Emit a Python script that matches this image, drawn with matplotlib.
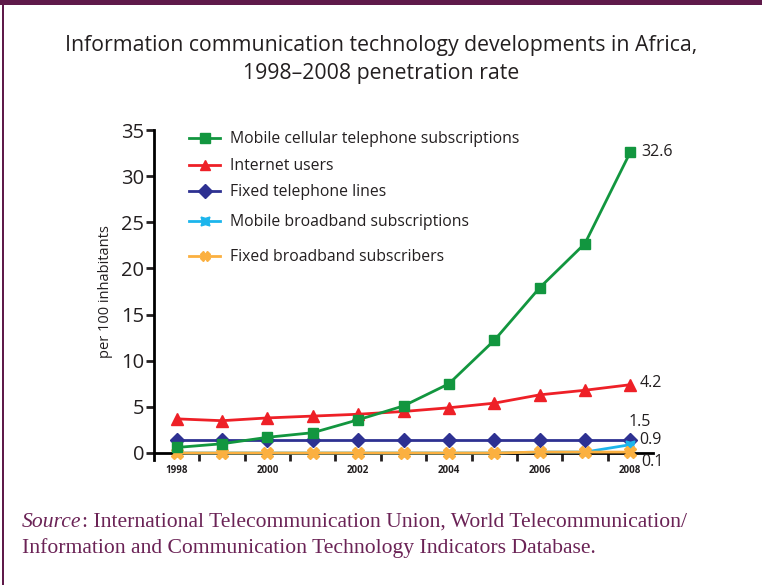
import matplotlib.pyplot as plt
from matplotlib.patches import Rectangle
from matplotlib.lines import Line2D

years = list(range(1998, 2009))
mobile_cellular = [0.6, 1.0, 1.7, 2.2, 3.6, 5.1, 7.5, 12.2, 17.9, 22.7, 32.6]
internet_users = [3.7, 3.5, 3.8, 4.0, 4.2, 4.5, 4.9, 5.4, 6.3, 6.8, 7.4]
fixed_lines = [1.4, 1.4, 1.4, 1.4, 1.4, 1.4, 1.4, 1.4, 1.4, 1.4, 1.4]
mobile_broadband = [0.0, 0.0, 0.0, 0.0, 0.0, 0.0, 0.0, 0.0, 0.1, 0.1, 0.9]
fixed_broadband = [0.0, 0.0, 0.0, 0.0, 0.0, 0.0, 0.0, 0.0, 0.1, 0.1, 0.1]

series_labels = ["Mobile cellular telephone subscriptions", "Internet users",
                 "Fixed telephone lines", "Mobile broadband subscriptions",
                 "Fixed broadband subscribers"]
end_labels = ["32.6", "4.2", "1.5", "0.9", "0.1"]
x_ticklabels = ["1998", "2000", "2002", "2004", "2006", "2008"]

plt.rcParams['font.family'] = ['Open Sans', 'DejaVu Sans']

fig = plt.figure(figsize=(7.62, 5.85), dpi=100)
maroon = "#5f1a4a"
txt = "#231f20"

# frame bits: top bar and left line
fig.add_artist(Rectangle((0, 1 - 5 / 585), 1, 5 / 585, transform=fig.transFigure,
                         color=maroon, lw=0))
fig.add_artist(Rectangle((2 / 762, 0), 2 / 762, 1, transform=fig.transFigure,
                         color=maroon, lw=0))

fig.text(0.5, 1 - 46 / 585, "Information communication technology developments in Africa,",
         ha='center', va='center', fontsize=15.3, color=txt)
fig.text(0.5, 1 - 73 / 585, "1998\u20132008 penetration rate",
         ha='center', va='center', fontsize=15.3, color=txt)

ax = fig.add_axes([154 / 762, 1 - 453 / 585, (653 - 154) / 762, (453 - 130) / 585])

green = "#12963f"
red = "#ee2027"
navy = "#2e3192"
cyan = "#1cb5ec"
orange = "#fbb040"
colors = [green, red, navy, cyan, orange]
markers = ['s', '^', 'D', (4, 1, 45), 'X']
legend_ms = [7, 7, 7, 9, 7]

ax.plot(years, mobile_cellular, color=green, lw=2, marker='s', ms=7, clip_on=False, zorder=5)
ax.plot(years, internet_users, color=red, lw=2, marker='^', ms=8, clip_on=False, zorder=4)
ax.plot(years, fixed_lines, color=navy, lw=2, marker='D', ms=7, clip_on=False, zorder=3)
ax.plot(years, mobile_broadband, color=cyan, lw=2, marker=(4, 1, 45), ms=9, clip_on=False, zorder=3)
ax.plot(years, fixed_broadband, color=orange, lw=2, marker='X', ms=8, clip_on=False, zorder=3)

ax.set_xlim(1997.5, 2008.5)
ax.set_ylim(0, 35)
for s in ['top', 'right']:
    ax.spines[s].set_visible(False)
ax.spines['left'].set_linewidth(2)
ax.spines['bottom'].set_linewidth(2)
ax.spines['left'].set_bounds(-0.8, 35)

ax.set_yticks(range(0, 36, 5))
ax.tick_params(axis='y', length=6, width=2, labelsize=14.5, pad=1, colors=txt)
ax.set_xticks([y + 0.5 for y in range(1998, 2008)])
ax.set_xticklabels([])
ax.tick_params(axis='x', length=6, width=2, direction='out', colors=txt)
for yr, lab in zip(range(1998, 2009, 2), x_ticklabels):
    ax.text(yr, -1.3, lab, ha='center', va='top', fontsize=7, fontweight='bold', color=txt)

ax.set_ylabel("per 100 inhabitants", fontsize=10.5, color=txt, labelpad=6)

ax.text(2008.25, 32.6, end_labels[0], va='center', fontsize=11.5, color=txt)
ax.text(2008.2, 7.6, end_labels[1], va='center', fontsize=11.5, color=txt)
ax.text(2007.95, 3.4, end_labels[2], va='center', fontsize=11.5, color=txt)
ax.text(2008.2, 1.45, end_labels[3], va='center', fontsize=11.5, color=txt)
ax.text(2008.25, -1.0, end_labels[4], va='center', fontsize=11.5, color=txt)

# legend entries placed one by one (uneven row spacing in the original)
legend_rows = [139, 166, 192, 222, 257]
for lab, col, mk, ms, row in zip(series_labels, colors, markers, legend_ms, legend_rows):
    h = Line2D([], [], color=col, lw=2, marker=mk, ms=ms)
    fig.legend([h], [lab], loc='center left',
               bbox_to_anchor=(189 / 762, 1 - row / 585), frameon=False,
               fontsize=11.3, handlelength=2.0, handletextpad=0.6,
               labelcolor=txt, borderaxespad=0, borderpad=0)

src_color = "#6b2356"
src_size = 15.6
t = fig.text(22 / 762, 1 - 527 / 585, "Source", fontsize=src_size, color=src_color,
             va='baseline', family='Liberation Serif', style='italic')
plt.annotate(": International Telecommunication Union, World Telecommunication/",
             xy=(1, 0), xycoords=t, va='bottom', ha='left', fontsize=src_size,
             color=src_color, family='Liberation Serif')
fig.text(22 / 762, 1 - 553 / 585,
         "Information and Communication Technology Indicators Database.",
         fontsize=src_size, color=src_color, va='baseline', family='Liberation Serif')

fig.savefig("out.png", dpi=100)
